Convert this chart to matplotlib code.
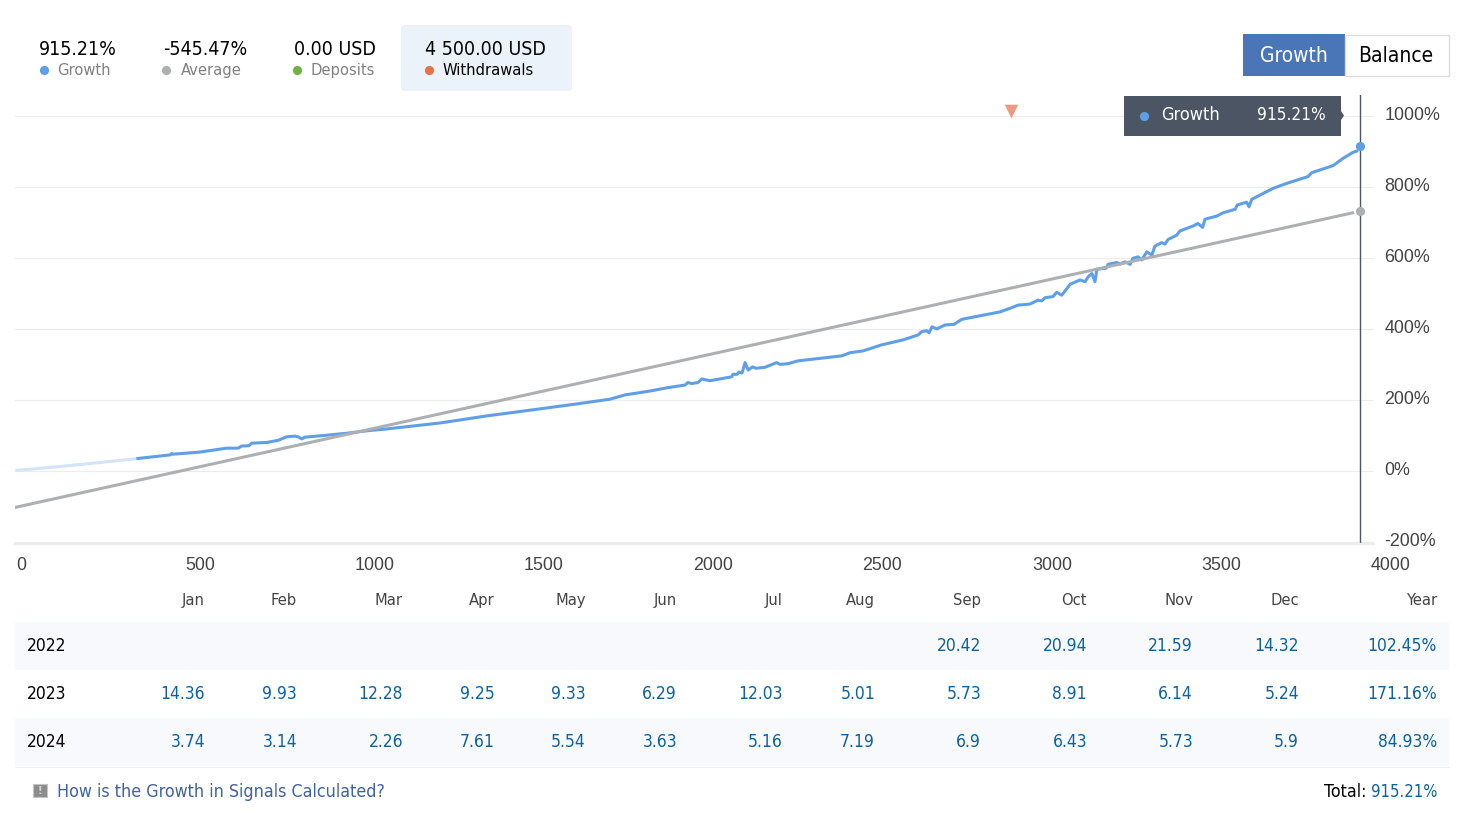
#growth chart of a trading signal, with the monthly table under it

import matplotlib
matplotlib.use('Agg')
from matplotlib import pyplot as plt
from matplotlib.patches import Rectangle, FancyBboxPatch, Polygon
from matplotlib.transforms import ScaledTranslation

# chart data
pale_x = [0, 130, 265, 364]
pale_y = [0, 11, 24, 34]

growth_x = [363, 458, 463, 467, 546, 625, 659, 669, 691, 699, 743, 777, 802, 827, 836, 847, 856, 915, 989,
            1039, 1096, 1255, 1394, 1521, 1654, 1757, 1801, 1875, 1925, 1979, 1987, 1998, 2017, 2028, 2052,
            2116, 2120, 2132, 2138, 2147, 2156, 2165, 2178, 2188, 2215, 2249, 2259, 2283, 2312, 2441, 2466,
            2504, 2559, 2622, 2667, 2677, 2692, 2699, 2708, 2722, 2746, 2773, 2796, 2909, 2938, 2962, 2997,
            3021, 3032, 3042, 3065, 3076, 3091, 3116, 3145, 3160, 3169, 3180, 3189, 3195, 3222, 3228, 3253,
            3263, 3278, 3293, 3301, 3316, 3327, 3342, 3357, 3366, 3386, 3396, 3405, 3430, 3440, 3479, 3493,
            3507, 3514, 3549, 3567, 3603, 3609, 3637, 3644, 3652, 3715, 3755, 3818, 3829, 3892, 3921, 3950, 3962]
growth_y = [34, 44, 48, 46, 52, 63, 63, 69, 70, 77, 79, 85, 95, 97, 95, 89, 94, 99, 106,
            112, 117, 134, 154, 170, 187, 201, 213, 224, 233, 241, 248, 245, 248, 258, 253,
            264, 271, 271, 277, 275, 304, 283, 292, 288, 291, 304, 299, 301, 309, 323, 332,
            337, 354, 368, 382, 391, 394, 388, 405, 399, 410, 412, 426, 447, 457, 466, 469,
            480, 478, 487, 490, 502, 494, 525, 537, 532, 546, 555, 532, 567, 570, 581, 586,
            582, 588, 581, 598, 602, 593, 616, 607, 632, 642, 638, 651, 663, 675, 689, 696,
            685, 708, 717, 726, 736, 748, 756, 743, 764, 795, 809, 828, 839, 859, 879, 896, 900]
average_x = [0, 3950]
average_y = [-104, 726]

last_x = 3971
last_growth = 915.21
last_average = 730
withdrawal_x = [2941]
withdrawal_y = [1013]

x_ticks = [0, 500, 1000, 1500, 2000, 2500, 3000, 3500, 4000]
y_ticks = [-200, 0, 200, 400, 600, 800, 1000]

# table data
months = ["Jan", "Feb", "Mar", "Apr", "May", "Jun", "Jul", "Aug", "Sep", "Oct", "Nov", "Dec", "Year"]
years = ["2022", "2023", "2024"]
row_2022 = ["", "", "", "", "", "", "", "", "20.42", "20.94", "21.59", "14.32", "102.45%"]
row_2023 = ["14.36", "9.93", "12.28", "9.25", "9.33", "6.29", "12.03", "5.01", "5.73", "8.91", "6.14", "5.24", "171.16%"]
row_2024 = ["3.74", "3.14", "2.26", "7.61", "5.54", "3.63", "5.16", "7.19", "6.9", "6.43", "5.73", "5.9", "84.93%"]

stat_values = ["915.21%", "-545.47%", "0.00 USD", "4 500.00 USD"]
stat_labels = ["Growth", "Average", "Deposits", "Withdrawals"]

BLUE = '#5f9fe8'
GREY = '#adb0b3'
GREEN = '#72b147'
ORANGE = '#e8704a'
NAVY = '#4b5563'
TABLE_BLUE = '#0b62a4'
W, H = 1462, 833

plt.rcParams['font.family'] = ['DejaVu Sans']
plt.rcParams['font.stretch'] = 'condensed'

fig = plt.figure(figsize=(W / 100, H / 100), dpi=100)

ax = fig.add_axes([15 / W, 1 - 544 / H, 1359 / W, 449 / H])
ax.set_xlim(0, 4013)
ax.set_ylim(-207, 1058)
ax.set_yticks(y_ticks)
ax.set_yticklabels([f"{v}%" for v in y_ticks])
ax.set_xticks(x_ticks)
ax.set_xticklabels([str(v) for v in x_ticks], ha='left')
ax.yaxis.tick_right()
ax.tick_params(length=0, labelcolor='#444444', labelsize=12.9)
ax.tick_params(axis='x', pad=9)
ax.tick_params(axis='y', pad=7.5)
for lab in ax.get_xticklabels() + ax.get_yticklabels():
    lab.set_family('Liberation Sans')
    lab.set_stretch('normal')
# the y labels sit a little above their grid lines, x labels a pixel right
up = ScaledTranslation(0, 2 / 100, fig.dpi_scale_trans)
for lab in ax.get_yticklabels():
    lab.set_transform(lab.get_transform() + up)
right = ScaledTranslation(1 / 100, 0, fig.dpi_scale_trans)
for lab in ax.get_xticklabels():
    lab.set_transform(lab.get_transform() + right)
ax.set_axisbelow(True)
ax.grid(axis='y', color='#ececec', lw=0.8)
for side in ['top', 'right', 'left']:
    ax.spines[side].set_visible(False)
ax.spines['bottom'].set_color('#ececec')
ax.spines['bottom'].set_linewidth(1.6)

ax.plot(pale_x, pale_y, color='#d3e3f8', lw=2.2, solid_capstyle='round')
ax.plot(growth_x, growth_y, color=BLUE, lw=2.2, solid_joinstyle='round')
ax.plot(average_x, average_y, color=GREY, lw=2.2)
ax.axvline(last_x, color=NAVY, lw=1)
ax.scatter([last_x], [last_growth], s=44, color=BLUE, lw=0, zorder=5, clip_on=False)
ax.scatter([last_x], [last_average], s=44, color=GREY, lw=0, zorder=5, clip_on=False)
ax.scatter(withdrawal_x, withdrawal_y, marker='v', s=95, color='#ee9a82', lw=0, zorder=5, clip_on=False)

# everything around the chart, in pixels of the page
ui = fig.add_axes([0, 0, 1, 1], zorder=5)
ui.set_xlim(0, W)
ui.set_ylim(H, 0)
ui.axis('off')
ui.patch.set_alpha(0)

# stats header
ui.add_patch(FancyBboxPatch((403, 27), 167, 62, boxstyle='round,pad=2,rounding_size=3', fc='#ebf2fa', ec='none'))
stat_x = [39, 163, 294, 425]
label_x = [57, 181, 311, 443]
dot_x = [43.5, 166, 297, 429]
dot_colors = [BLUE, GREY, GREEN, ORANGE]
for i in range(4):
    ui.text(stat_x[i], 55, stat_values[i], fontsize=14, color='black', va='baseline')
    ui.text(label_x[i], 75, stat_labels[i], fontsize=11.8, va='baseline',
            color='black' if i == 3 else '#808080')
    ui.scatter([dot_x[i]], [70], s=44, color=dot_colors[i], lw=0)

# buttons
ui.add_patch(Rectangle((1243, 34), 102, 42, fc='#4a76b8', ec='none'))
ui.add_patch(Rectangle((1345, 34.5), 103.5, 41, fc='white', ec='#dddddd', lw=1))
ui.text(1294, 62, "Growth", color='white', fontsize=15, ha='center', va='baseline')
ui.text(1396, 62, "Balance", color='black', fontsize=15, ha='center', va='baseline')

# tooltip
ui.add_patch(Rectangle((1124, 96), 217, 40, fc=NAVY, ec='none'))
ui.add_patch(Polygon([(1341, 111), (1344, 115.5), (1341, 120)], fc=NAVY, ec='none'))
ui.scatter([1143.5], [115.5], s=44, color=BLUE, lw=0, zorder=3)
ui.text(1161, 120, "Growth", color='white', fontsize=13, va='baseline')
ui.text(1326, 120, "915.21%", color='white', fontsize=12.3, va='baseline', ha='right')

# monthly table
col_right = [205, 297, 403, 495, 586, 677, 783, 875, 981, 1087, 1193, 1299, 1437]
for name, col in zip(months, col_right):
    ui.text(col, 605, name, color='#444444', fontsize=11.8, ha='right', va='baseline')
ui.add_patch(Rectangle((15, 622), 1434, 48, fc='#f8f9fd', ec='none'))
ui.add_patch(Rectangle((15, 718), 1434, 48, fc='#f8f9fd', ec='none'))
ui.plot([15, 1449], [766.5, 766.5], color='#eef0f4', lw=0.8)
row_y = [651, 699, 747]
for year, row, y in zip(years, [row_2022, row_2023, row_2024], row_y):
    ui.text(27, y, year, color='black', fontsize=12.5, va='baseline')
    for val, col in zip(row, col_right):
        ui.text(col, y, val, color=TABLE_BLUE, fontsize=12.5, ha='right', va='baseline')

# footer
ui.add_patch(Rectangle((33, 784), 13.5, 13, fc='#8c8c8c', ec='#c4c4c4', lw=0.8))
ui.text(39.7, 790.5, "!", color='#e0d4dc', fontsize=8, ha='center', va='center', fontweight='bold')
ui.text(57, 797, "How is the Growth in Signals Calculated?", color='#3f62a0', fontsize=12.8, va='baseline')
ui.text(1366, 797, "Total:", color='black', fontsize=12.8, ha='right', va='baseline')
ui.text(1437, 797, "915.21%", color=TABLE_BLUE, fontsize=12, ha='right', va='baseline')

fig.savefig('out.png', dpi=100)
